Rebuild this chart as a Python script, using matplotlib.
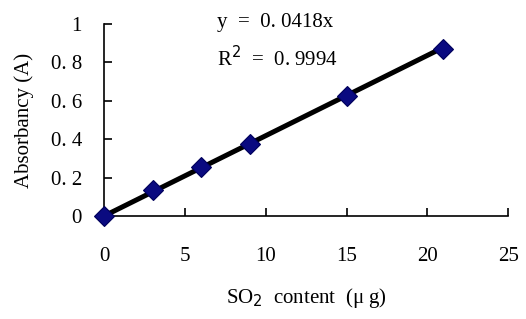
import numpy as np
import matplotlib.pyplot as plt

# SO2 calibration data
so2_ug = [0, 3, 6, 9, 15, 21]
absorbance = [0.0, 0.135, 0.255, 0.375, 0.627, 0.872]
slope = 0.0418
r_squared = 0.9994

x_ticks = [0, 5, 10, 15, 20, 25]
y_ticks = [0, 0.2, 0.4, 0.6, 0.8, 1.0]
y_tick_labels = ['0', '0. 2', '0. 4', '0. 6', '0. 8', '1']

plt.rcParams['font.family'] = ['Liberation Serif', 'DejaVu Serif']

fig = plt.figure(figsize=(5.26, 3.19), dpi=100)
ax = fig.add_axes([0.198, 0.323, 0.768, 0.602])

fit_x = np.array([so2_ug[0], so2_ug[-1]])
ax.plot(fit_x, slope * fit_x, color='black', lw=3.6, zorder=2)
ax.plot(so2_ug, absorbance, linestyle='none', marker='D', ms=10,
        mfc='#0a0a80', mec='#00005a', mew=0.8, zorder=3, clip_on=False)

ax.set_xlim(0, 25)
ax.set_ylim(0, 1)
ax.set_xticks(x_ticks)
ax.set_yticks(y_ticks)
ax.set_yticklabels(y_tick_labels)

for side in ('top', 'right'):
    ax.spines[side].set_visible(False)
for side in ('left', 'bottom'):
    ax.spines[side].set_linewidth(1.2)

ax.tick_params(axis='both', direction='in', length=6, width=1.2,
               labelsize=15, colors='black')
ax.tick_params(axis='y', pad=16)
ax.tick_params(axis='x', pad=22)

ax.set_xlabel('SO$_2$  content  (μ g)', fontsize=15, labelpad=15)
ax.set_ylabel('Absorbancy (A)', fontsize=15, labelpad=12)

ax.text(0.28, 1.01, 'y  =  0. 0418x', transform=ax.transAxes,
        fontsize=15, va='center', ha='left')
ax.text(0.28, 0.82, 'R$^2$  =  0. 9994', transform=ax.transAxes,
        fontsize=15, va='center', ha='left')

fig.savefig('out.png', dpi=100)
